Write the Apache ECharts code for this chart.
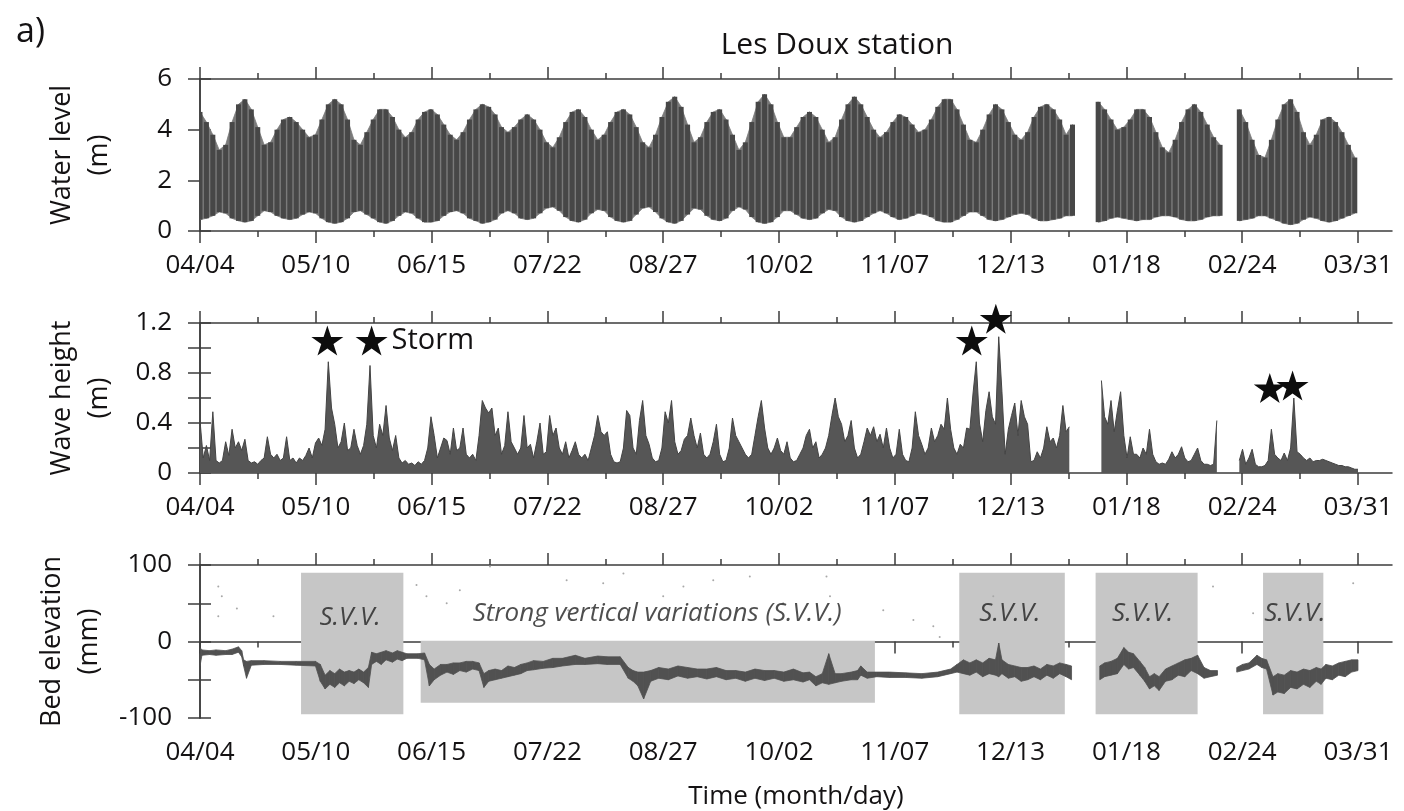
<!DOCTYPE html>
<html>
<head>
<meta charset="utf-8">
<title>Les Doux station</title>
<script src="https://cdn.jsdelivr.net/npm/echarts@6.0.0/dist/echarts.min.js"></script>
<style>
  html, body { margin: 0; padding: 0; background: #fff; }
  #root { width: 1404px; height: 811px; }
</style>
</head>
<body>
<div id="root"></div>
<script>
// x axis is days since 04/04, one labelled tick every 36.1 days
const tickLabels = ['04/04', '05/10', '06/15', '07/22', '08/27', '10/02', '11/07', '12/13', '01/18', '02/24', '03/31']
const tickStep = 36.1

// water level envelope (m), one value every 2 days from day 0, null = no record
const levelHigh = [
  4.7, 4.3, 3.8, 3.2, 3.4, 4.3, 5.0, 5.2, 4.8, 4.1,
  3.4, 3.5, 4.0, 4.4, 4.5, 4.3, 4.0, 3.7, 3.8, 4.4,
  5.0, 5.2, 5.0, 4.4, 3.6, 3.4, 3.9, 4.4, 4.8, 4.8,
  4.5, 4.0, 3.7, 3.9, 4.4, 4.7, 4.8, 4.6, 4.2, 3.8,
  3.6, 3.9, 4.4, 4.8, 5.0, 4.9, 4.6, 4.1, 3.9, 4.1,
  4.4, 4.6, 4.4, 4.0, 3.5, 3.3, 3.7, 4.3, 4.7, 4.8,
  4.5, 4.0, 3.6, 3.8, 4.3, 4.7, 4.8, 4.6, 4.1, 3.5,
  3.3, 3.8, 4.5, 5.1, 5.3, 4.9, 4.2, 3.5, 3.7, 4.3,
  4.7, 4.8, 4.4, 3.8, 3.2, 3.5, 4.3, 5.1, 5.4, 5.0,
  4.3, 3.7, 3.7, 4.1, 4.5, 4.7, 4.5, 4.0, 3.5, 3.7,
  4.4, 5.0, 5.3, 5.0, 4.5, 4.0, 3.7, 3.9, 4.3, 4.6,
  4.5, 4.2, 3.9, 4.0, 4.4, 4.9, 5.2, 5.2, 4.8, 4.2,
  3.6, 3.5, 4.0, 4.6, 5.0, 4.8, 4.3, 3.8, 3.6, 3.9,
  4.5, 4.9, 5.0, 4.8, 4.4, 3.8, 4.2, null, null, null,
  5.1, 4.8, 4.4, 4.0, 4.1, 4.4, 4.8, 4.8, 4.5, 3.9,
  3.3, 3.1, 3.6, 4.3, 4.8, 5.0, 4.7, 4.2, 3.7, 3.4,
  null, null, 4.8, 4.3, 3.6, 3.0, 2.9, 3.6, 4.4, 5.0,
  5.2, 4.7, 3.9, 3.4, 3.8, 4.4, 4.5, 4.3, 3.9, 3.4,
  2.9
]
const levelLow = [
  0.45, 0.5, 0.6, 0.75, 0.7, 0.5, 0.4, 0.35, 0.4, 0.6,
  0.8, 0.75, 0.6, 0.5, 0.45, 0.5, 0.65, 0.75, 0.7, 0.5,
  0.35, 0.3, 0.35, 0.5, 0.75, 0.8, 0.65, 0.5, 0.35, 0.3,
  0.4, 0.6, 0.75, 0.7, 0.5, 0.35, 0.35, 0.4, 0.6, 0.75,
  0.8, 0.7, 0.5, 0.4, 0.3, 0.35, 0.45, 0.7, 0.8, 0.7,
  0.5, 0.45, 0.5, 0.7, 0.9, 0.95, 0.8, 0.55, 0.4, 0.35,
  0.45, 0.7, 0.85, 0.8, 0.55, 0.4, 0.35, 0.4, 0.65, 0.9,
  0.95, 0.75, 0.5, 0.35, 0.3, 0.4, 0.65, 0.9, 0.85, 0.6,
  0.45, 0.4, 0.5, 0.8, 0.95, 0.85, 0.55, 0.35, 0.3, 0.35,
  0.55, 0.8, 0.8, 0.65, 0.5, 0.45, 0.5, 0.7, 0.85, 0.8,
  0.55, 0.4, 0.35, 0.4, 0.55, 0.7, 0.8, 0.7, 0.55, 0.45,
  0.5, 0.6, 0.7, 0.65, 0.55, 0.4, 0.35, 0.35, 0.45, 0.6,
  0.75, 0.75, 0.6, 0.45, 0.4, 0.45, 0.55, 0.65, 0.7, 0.65,
  0.5, 0.4, 0.4, 0.45, 0.5, 0.6, 0.6, null, null, null,
  0.35, 0.4, 0.5, 0.55, 0.5, 0.45, 0.4, 0.45, 0.45, 0.55,
  0.6, 0.6, 0.55, 0.45, 0.4, 0.4, 0.45, 0.55, 0.6, 0.6,
  null, null, 0.4, 0.45, 0.5, 0.6, 0.6, 0.5, 0.4, 0.3,
  0.25, 0.3, 0.45, 0.55, 0.5, 0.4, 0.35, 0.4, 0.5, 0.6,
  0.7
]

// wave height (m), one value per day from day 0
const waveHeight = [
  0.42, 0.12, 0.22, 0.1, 0.49, 0.1, 0.08, 0.1, 0.25, 0.14,
  0.35, 0.2, 0.25, 0.18, 0.27, 0.1, 0.08, 0.09, 0.07, 0.1,
  0.12, 0.29, 0.15, 0.12, 0.15, 0.1, 0.12, 0.29, 0.1, 0.12,
  0.08, 0.12, 0.1, 0.14, 0.2, 0.12, 0.24, 0.28, 0.22, 0.35,
  0.89, 0.52, 0.39, 0.2, 0.25, 0.4, 0.18, 0.2, 0.35, 0.22,
  0.15, 0.22, 0.39, 0.86, 0.3, 0.2, 0.39, 0.3, 0.54, 0.28,
  0.18, 0.3, 0.12, 0.08, 0.1, 0.07, 0.08, 0.06, 0.09, 0.07,
  0.1, 0.2, 0.45, 0.3, 0.12, 0.2, 0.28, 0.26, 0.15, 0.36,
  0.18, 0.2, 0.36, 0.15, 0.12, 0.15, 0.1, 0.3, 0.58, 0.52,
  0.48, 0.52, 0.3, 0.36, 0.15, 0.22, 0.49, 0.25, 0.2, 0.15,
  0.2, 0.46, 0.2, 0.23, 0.12, 0.25, 0.4, 0.15, 0.17, 0.46,
  0.3, 0.36, 0.2, 0.15, 0.25, 0.12, 0.18, 0.25, 0.15, 0.12,
  0.15, 0.1, 0.2, 0.3, 0.46, 0.33, 0.3, 0.33, 0.15, 0.09,
  0.08, 0.09, 0.2, 0.5, 0.46, 0.2, 0.15, 0.42, 0.58, 0.3,
  0.23, 0.12, 0.09, 0.1, 0.2, 0.49, 0.4, 0.58, 0.25, 0.15,
  0.18, 0.27, 0.3, 0.44, 0.3, 0.2, 0.32, 0.15, 0.12, 0.15,
  0.25, 0.39, 0.15, 0.09, 0.1, 0.2, 0.44, 0.3, 0.25, 0.2,
  0.15, 0.12, 0.15, 0.3, 0.45, 0.58, 0.36, 0.2, 0.15, 0.2,
  0.28, 0.18, 0.15, 0.25, 0.12, 0.09, 0.1, 0.15, 0.2, 0.3,
  0.35, 0.2, 0.25, 0.12, 0.15, 0.2, 0.3, 0.46, 0.6, 0.45,
  0.39, 0.25, 0.3, 0.42, 0.2, 0.12, 0.15, 0.25, 0.36, 0.3,
  0.37, 0.25, 0.31, 0.2, 0.36, 0.2, 0.12, 0.15, 0.35, 0.15,
  0.1, 0.09, 0.2, 0.49, 0.3, 0.23, 0.15, 0.2, 0.36, 0.25,
  0.3, 0.39, 0.35, 0.6, 0.35, 0.2, 0.15, 0.23, 0.2, 0.36,
  0.35, 0.64, 0.89, 0.4, 0.25, 0.5, 0.65, 0.45, 0.39, 1.09,
  0.65, 0.15, 0.35, 0.46, 0.56, 0.3, 0.58, 0.45, 0.39, 0.09,
  0.1, 0.17, 0.12, 0.2, 0.37, 0.25, 0.28, 0.2, 0.3, 0.54,
  0.33, 0.37, null, null, null, null, null, null, null, null,
  null, 0.74, 0.45, 0.39, 0.58, 0.33, 0.5, 0.65, 0.3, 0.12,
  0.29, 0.15, 0.15, 0.12, 0.2, 0.15, 0.35, 0.15, 0.09, 0.07,
  0.08, 0.07, 0.11, 0.17, 0.12, 0.15, 0.21, 0.12, 0.09, 0.1,
  0.15, 0.2, 0.1, 0.07, 0.07, 0.06, 0.07, 0.42, null, null,
  null, null, null, null, 0.1, 0.19, 0.07, 0.12, 0.19, 0.07,
  0.05, 0.05, 0.06, 0.1, 0.35, 0.15, 0.12, 0.1, 0.16, 0.1,
  0.2, 0.6, 0.17, 0.15, 0.12, 0.1, 0.12, 0.09, 0.1, 0.1,
  0.11, 0.1, 0.09, 0.08, 0.07, 0.06, 0.06, 0.05, 0.05, 0.04,
  0.03, 0.03
]

// storm markers
const stormDay = [39.7, 53.5, 240.6, 248.1, 333.5, 340.6]
const stormMark = [1.06, 1.06, 1.06, 1.235, 0.68, 0.7]
const stormText = ['', 'Storm', '', '', '', '']

// bed elevation envelope (mm), null = no record
const bedDay = [
  0, 0.6, 3, 5, 8, 10, 12, 13, 13.6, 14.5,
  16, 20, 25, 30, 36, 37.5, 39, 40.5, 42, 43.5,
  45, 46.5, 48, 49.5, 51, 52.5, 53.5, 55, 56.5, 58,
  60, 61.5, 63, 64.5, 68, 70, 71.5, 73, 75, 77,
  79, 81, 83, 85, 87, 88.5, 90, 92, 94, 96,
  98, 100, 102, 104, 107, 110, 113, 117, 120, 124,
  127, 131, 133.5, 135, 136.5, 138.3, 140.5, 143, 146, 149,
  152, 155, 158, 161, 164, 167, 170, 173, 176, 179,
  182, 185, 188, 190, 192, 194, 196, 198, 200, 203,
  205, 206, 208, 211, 215, 220, 225, 230, 234, 236,
  238, 240, 242, 244, 246, 248, 249, 250, 252, 254,
  256, 258, 260, 262, 264, 266, 268, 270, 271.7, 276,
  280.5, 282, 284, 286, 288, 289.5, 291, 293, 294.5, 296,
  297.5, 299, 301, 303, 305, 307, 309, 311, 313, 315,
  317.2, 320, 323.2, 325, 327, 329.5, 331, 332.5, 334.5, 336,
  338, 340, 342, 344, 346, 348, 349.5, 351, 353, 355,
  357, 359, 361
]
const bedLow = [
  -32, -18, -17, -18, -17, -17, -14, -20, -32, -48,
  -31, -30, -30, -31, -32, -52, -62, -56, -60, -54,
  -58, -52, -55, -50, -54, -60, -30, -26, -30, -24,
  -27, -23, -25, -22, -22, -24, -58, -50, -44, -40,
  -43, -38, -40, -36, -38, -60, -52, -50, -48, -46,
  -44, -42, -38, -37, -35, -34, -32, -30, -30, -29,
  -30, -30, -48, -52, -58, -75, -52, -48, -50, -45,
  -48, -46, -49, -46, -50, -48, -52, -48, -51, -48,
  -52, -50, -53, -50, -58, -54, -56, -54, -52, -50,
  -50, -44, -48, -46, -47, -47, -48, -46, -42, -40,
  -42, -44, -40, -46, -42, -44, -46, -42, -48, -46,
  -52, -50, -46, -50, -44, -48, -42, -46, -50, null,
  -50, -46, -44, -42, -30, -36, -34, -44, -52, -62,
  -58, -64, -52, -50, -44, -46, -38, -42, -48, -46,
  -44, null, -40, -38, -36, -30, -34, -36, -70, -66,
  -68, -60, -62, -56, -60, -52, -56, -48, -50, -44,
  -46, -40, -38
]
const bedHigh = [
  -8, -11, -12, -11, -12, -10, -7, -12, -24, -26,
  -25, -25, -26, -26, -26, -30, -44, -38, -42, -36,
  -40, -38, -40, -36, -40, -34, -14, -16, -14, -12,
  -15, -12, -14, -16, -16, -15, -30, -36, -30, -30,
  -28, -28, -26, -26, -28, -42, -38, -36, -38, -32,
  -34, -30, -28, -25, -26, -22, -22, -18, -22, -19,
  -20, -20, -34, -38, -40, -40, -38, -34, -36, -32,
  -34, -36, -36, -34, -38, -38, -40, -36, -38, -38,
  -40, -36, -41, -40, -46, -42, -16, -42, -42, -40,
  -38, -32, -40, -40, -40, -41, -42, -40, -36, -30,
  -24, -28, -24, -28, -22, -24, -2, -24, -30, -32,
  -34, -34, -32, -36, -30, -32, -28, -30, -32, null,
  -32, -28, -26, -22, -8, -14, -16, -26, -34, -46,
  -42, -46, -36, -32, -28, -24, -22, -18, -34, -38,
  -38, null, -34, -30, -28, -18, -22, -24, -46, -42,
  -44, -38, -40, -36, -38, -34, -36, -30, -32, -28,
  -26, -24, -24
]

// faint stray bed readings (mm)
const bedDotDay = [5.7, 5.7, 6.8, 11.5, 22.9, 67.5, 70.6, 76.9, 81, 90.4, 91.4, 114.3, 114.8, 125.7, 132, 144.4, 150.7, 160, 171.4, 181.8, 195.3, 196.4, 213, 222.4, 228.6, 230.6, 247.3, 315.8, 328.3, 359.5]
const bedDotValue = [72, 33, 59, 43, 33, 74, 59, 50, 67, 98, 28, 80, 41, 76, 89, 59, 72, 80, 85, 50, 85, 59, 41, 28, 20, 6, 59, 72, 37, 76]

// strong vertical variation periods
const svvStart = [31.5, 68.8, 236.7, 279.2, 331.4]
const svvEnd = [63.4, 210.4, 269.6, 311.0, 350.2]
const svvTop = [90, 1, 90, 90, 90]
const svvBottom = [-95, -80, -95, -95, -95]
const svvLabelDay = [46.8, 142.5, 252.5, 293.9, 341.3]
const svvLabelValue = [31, 37, 37, 37, 37]
const svvLabelText = ['S.V.V.', 'Strong vertical variations (S.V.V.)', 'S.V.V.', 'S.V.V.', 'S.V.V.']

const FONT = 'Open Sans'
const INK = '#141213'
const FRAME = '#3c3c3c'
const X_MAX = 371.6
const STAR = 'path://M50,0L61.2,34.5L97.6,34.5L68.2,55.9L79.4,90.5L50,69.1L20.6,90.5L31.8,55.9L2.4,34.5L38.8,34.5Z'

const majorDays = tickLabels.map((_, i) => Math.round(i * tickStep * 10) / 10)
const minorDays = majorDays.slice(1).map(d => d - tickStep / 2)
const levelDay = levelHigh.map((_, i) => i * 2)

const frameLine = { show: true, lineStyle: { color: FRAME, width: 1.5 } }
const tickStyle = { color: FRAME, width: 1.5 }
const textStyle = { fontFamily: FONT, color: INK }

const xAxesFor = (g, name) => {
  const base = { type: 'value', gridIndex: g, min: 0, max: X_MAX, splitLine: { show: false } }
  const ticks = (length, values) => ({ show: true, inside: false, length, customValues: values, lineStyle: tickStyle })
  return [
    {
      ...base,
      position: 'bottom',
      axisLine: frameLine,
      axisTick: ticks(12, majorDays),
      axisLabel: {
        ...textStyle,
        customValues: majorDays,
        formatter: v => tickLabels[Math.round(v / tickStep)],
        margin: 22,
        fontSize: 26
      },
      name: name || '',
      nameLocation: 'middle',
      nameGap: 66,
      nameTextStyle: { ...textStyle, fontSize: 26 }
    },
    { ...base, position: 'bottom', axisLine: { show: false }, axisTick: ticks(6, minorDays), axisLabel: { show: false } },
    { ...base, position: 'top', axisLine: frameLine, axisTick: ticks(12, majorDays), axisLabel: { show: false } },
    { ...base, position: 'top', axisLine: { show: false }, axisTick: ticks(6, minorDays), axisLabel: { show: false } }
  ]
}

const yAxesFor = (g, min, max, interval, showLabel, name) => [
  {
    type: 'value',
    gridIndex: g,
    min,
    max,
    interval,
    position: 'left',
    splitLine: { show: false },
    axisLine: frameLine,
    axisTick: { show: true, length: 12, lineStyle: tickStyle },
    axisLabel: { ...textStyle, fontSize: 26, margin: 28, formatter: v => showLabel(v) ? String(v) : '' },
    name,
    nameLocation: 'middle',
    nameRotate: 90,
    nameGap: 82,
    nameTextStyle: { ...textStyle, fontSize: 27, lineHeight: 37, align: 'center' }
  },
  {
    type: 'value',
    gridIndex: g,
    min,
    max,
    interval,
    position: 'right',
    splitLine: { show: false },
    axisLine: frameLine,
    axisTick: { show: true, length: 11, lineStyle: tickStyle },
    axisLabel: { show: false }
  }
]

// polygon between consecutive samples, optional dark bar on each sample
const bandItem = (days, low, high, fill, bar, barHalf) => (params, api) => {
  const i = params.dataIndex
  if (low[i] == null) return
  const children = []
  const p0 = api.coord([days[i], low[i]])
  const p1 = api.coord([days[i], high[i]])
  if (i < days.length - 1 && low[i + 1] != null) {
    const q0 = api.coord([days[i + 1], low[i + 1]])
    const q1 = api.coord([days[i + 1], high[i + 1]])
    children.push({ type: 'polygon', shape: { points: [p0, p1, q1, q0] }, style: { fill, stroke: fill, lineWidth: 0.8 } })
  }
  if (barHalf) {
    children.push({ type: 'rect', shape: { x: p0[0] - barHalf, y: p1[1], width: barHalf * 2, height: p0[1] - p1[1] }, style: { fill: bar } })
  }
  return { type: 'group', children }
}

const gridBox = { left: 200, width: 1192, outerBoundsMode: 'none' }

const option = {
  backgroundColor: '#fff',
  animation: false,
  grid: [
    { ...gridBox, top: 79, height: 152 },
    { ...gridBox, top: 323, height: 150 },
    { ...gridBox, top: 565, height: 153 }
  ],
  xAxis: [
    ...xAxesFor(0),
    ...xAxesFor(1),
    ...xAxesFor(2, 'Time (month/day)')
  ],
  yAxis: [
    ...yAxesFor(0, 0, 6, 2, () => true, 'Water level\n(m)'),
    ...yAxesFor(1, 0, 1.2, 0.2, v => Math.round(v * 10) % 4 === 0, 'Wave height\n(m)'),
    ...yAxesFor(2, -100, 100, 50, v => v % 100 === 0, 'Bed elevation\n(mm)')
  ],
  graphic: [
    { type: 'text', x: 16, y: 32, style: { text: 'a)', fontSize: 34, fontFamily: FONT, fill: INK, verticalAlign: 'middle' } },
    { type: 'text', x: 837, y: 45, style: { text: 'Les Doux station', fontSize: 30, fontFamily: FONT, fill: INK, align: 'center', verticalAlign: 'middle' } }
  ],
  series: [
    {
      name: 'Water level',
      type: 'custom',
      xAxisIndex: 0,
      yAxisIndex: 0,
      clip: true,
      data: levelDay.map((d, i) => [d, levelLow[i], levelHigh[i]]),
      encode: { x: 0, y: [1, 2] },
      renderItem: bandItem(levelDay, levelLow, levelHigh, '#7a7a7a', '#474747', 2.5),
      z: 2
    },
    {
      name: 'Wave height',
      type: 'line',
      xAxisIndex: 4,
      yAxisIndex: 2,
      data: waveHeight.map((v, i) => [i, v]),
      symbol: 'none',
      connectNulls: false,
      lineStyle: { color: '#444', width: 1 },
      areaStyle: { color: '#565656', opacity: 1 },
      z: 2
    },
    {
      name: 'Storms',
      type: 'scatter',
      xAxisIndex: 4,
      yAxisIndex: 2,
      clip: false,
      symbol: STAR,
      symbolSize: [32, 30],
      itemStyle: { color: '#0d0d0d', opacity: 1 },
      label: {
        show: true,
        position: 'right',
        distance: 4,
        ...textStyle,
        fontSize: 29,
        formatter: p => stormText[p.dataIndex]
      },
      data: stormDay.map((d, i) => [d, stormMark[i]]),
      z: 5
    },
    {
      name: 'S.V.V.',
      type: 'custom',
      xAxisIndex: 8,
      yAxisIndex: 4,
      data: svvStart.map((s, i) => [s, svvEnd[i], svvTop[i], svvBottom[i]]),
      renderItem: (params, api) => {
        const i = params.dataIndex
        const a = api.coord([svvStart[i], svvTop[i]])
        const b = api.coord([svvEnd[i], svvBottom[i]])
        return { type: 'rect', shape: { x: a[0], y: a[1], width: b[0] - a[0], height: b[1] - a[1] }, style: { fill: '#c6c6c6' } }
      },
      z: 1
    },
    {
      name: 'Stray readings',
      type: 'scatter',
      xAxisIndex: 8,
      yAxisIndex: 4,
      symbolSize: 2,
      itemStyle: { color: '#a8a8a8', opacity: 1 },
      data: bedDotDay.map((d, i) => [d, bedDotValue[i]]),
      z: 2
    },
    {
      name: 'Bed elevation',
      type: 'custom',
      xAxisIndex: 8,
      yAxisIndex: 4,
      clip: true,
      data: bedDay.map((d, i) => [d, bedLow[i], bedHigh[i]]),
      encode: { x: 0, y: [1, 2] },
      renderItem: bandItem(bedDay, bedLow, bedHigh, '#515151', null, 0),
      z: 3
    },
    {
      name: 'S.V.V. labels',
      type: 'scatter',
      xAxisIndex: 8,
      yAxisIndex: 4,
      symbolSize: 1,
      itemStyle: { color: 'transparent' },
      label: {
        show: true,
        position: 'inside',
        ...textStyle,
        color: '#222',
        fontSize: 26,
        fontStyle: 'italic',
        formatter: p => svvLabelText[p.dataIndex]
      },
      data: svvLabelDay.map((d, i) => [d, svvLabelValue[i]]),
      z: 4
    }
  ]
}

const chart = echarts.init(document.getElementById('root'), null, { renderer: 'canvas' })
chart.setOption(option)
</script>
</body>
</html>
